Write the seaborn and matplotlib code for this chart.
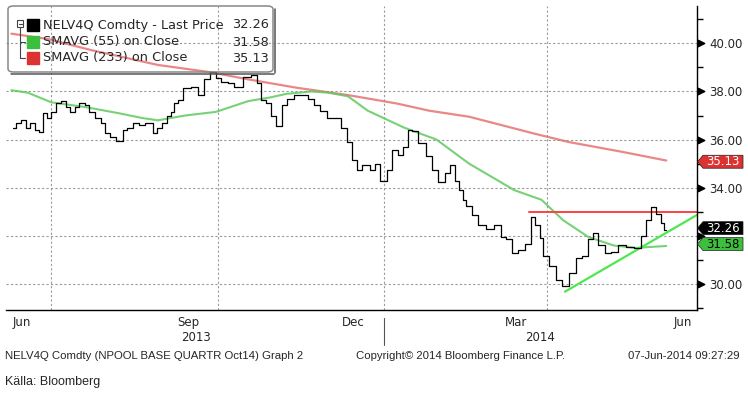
import matplotlib
matplotlib.use('Agg')
import pandas as pd
import matplotlib.pyplot as plt
import matplotlib.dates as mdates
import seaborn as sns
from matplotlib.transforms import blended_transform_factory
from matplotlib.patches import Rectangle, FancyBboxPatch, Polygon
from matplotlib.lines import Line2D

# NELV4Q Comdty - senaste pris
price_dates = [
    '2013-06-10', '2013-06-13', '2013-06-16', '2013-06-18', '2013-06-21', '2013-06-23',
    '2013-06-26', '2013-06-27', '2013-06-30', '2013-07-02', '2013-07-05', '2013-07-08',
    '2013-07-10', '2013-07-13', '2013-07-15', '2013-07-18', '2013-07-21', '2013-07-23',
    '2013-07-27', '2013-07-30', '2013-08-01', '2013-08-04', '2013-08-08', '2013-08-11',
    '2013-08-13', '2013-08-17', '2013-08-20', '2013-08-24', '2013-08-28', '2013-08-29',
    '2013-09-02', '2013-09-04', '2013-09-06', '2013-09-08', '2013-09-10', '2013-09-14',
    '2013-09-18', '2013-09-22', '2013-09-25', '2013-09-29', '2013-10-01', '2013-10-05',
    '2013-10-08', '2013-10-12', '2013-10-18', '2013-10-21', '2013-10-24', '2013-10-26',
    '2013-10-29', '2013-11-01', '2013-11-04', '2013-11-07', '2013-11-10', '2013-11-14',
    '2013-11-18', '2013-11-22', '2013-11-25', '2013-11-28', '2013-12-03', '2013-12-06',
    '2013-12-10', '2013-12-13', '2013-12-16', '2013-12-18', '2013-12-22', '2013-12-26',
    '2013-12-28', '2014-01-01', '2014-01-04', '2014-01-07', '2014-01-10', '2014-01-13',
    '2014-01-15', '2014-01-18', '2014-01-22', '2014-01-26', '2014-01-29', '2014-02-02',
    '2014-02-05', '2014-02-08', '2014-02-10', '2014-02-13', '2014-02-14', '2014-02-17',
    '2014-02-20', '2014-02-24', '2014-03-01', '2014-03-05', '2014-03-08', '2014-03-11',
    '2014-03-14', '2014-03-18', '2014-03-22', '2014-03-24', '2014-03-27', '2014-03-29',
    '2014-03-31', '2014-04-04', '2014-04-08', '2014-04-11', '2014-04-15', '2014-04-19',
    '2014-04-22', '2014-04-25', '2014-04-28', '2014-05-01', '2014-05-05', '2014-05-08',
    '2014-05-13', '2014-05-17', '2014-05-21', '2014-05-25', '2014-05-27', '2014-05-30',
    '2014-06-02', '2014-06-04', '2014-06-06',
]
price_vals = [
    36.5, 36.7, 36.8, 36.5, 36.7, 36.4,
    36.3, 37.1, 36.9, 37.15, 37.5, 37.6,
    37.35, 37.15, 37.35, 37.5, 37.45, 37.15,
    36.9, 36.7, 36.27, 36.1, 35.95, 36.4,
    36.5, 36.7, 36.6, 36.7, 36.27, 36.5,
    36.7, 37.0, 37.15, 37.5, 37.65, 38.15,
    38.2, 37.85, 38.5, 38.8, 38.55, 38.4,
    38.35, 38.2, 38.6, 38.7, 38.35, 37.65,
    37.5, 37.0, 36.55, 37.45, 37.7, 37.85,
    37.85, 37.7, 37.45, 37.2, 36.9, 36.9,
    36.5, 35.9, 35.15, 34.75, 34.95, 34.75,
    35.0, 34.3, 34.75, 35.55, 35.35, 35.7,
    36.4, 36.35, 35.85, 35.3, 34.75, 34.25,
    34.6, 34.95, 34.3, 33.9, 33.5, 33.25,
    32.85, 32.45, 32.3, 32.45, 31.95, 31.85,
    31.3, 31.4, 31.65, 32.8, 32.45, 31.9,
    31.15, 30.75, 30.15, 29.9, 30.45, 31.1,
    31.15, 31.85, 32.1, 31.6, 31.3, 31.35,
    31.6, 31.55, 31.5, 32.0, 32.65, 33.2,
    32.9, 32.55, 32.26,
]

# SMAVG (55) on Close
sma55_dates = [
    '2013-06-09', '2013-06-18', '2013-07-01', '2013-07-20', '2013-08-07', '2013-08-20',
    '2013-08-29', '2013-09-13', '2013-09-30', '2013-10-18', '2013-10-30', '2013-11-08',
    '2013-11-22', '2013-12-01', '2013-12-12', '2013-12-23', '2014-01-12', '2014-01-30',
    '2014-02-17', '2014-03-14', '2014-03-29', '2014-04-10', '2014-04-24', '2014-05-08',
    '2014-05-20', '2014-06-06',
]
sma55_vals = [
    38.05, 37.95, 37.55, 37.35, 37.1, 36.9,
    36.8, 37.0, 37.15, 37.6, 37.75, 37.9,
    38.0, 37.95, 37.8, 37.2, 36.5, 36.0,
    35.0, 33.9, 33.5, 32.65, 31.95, 31.6,
    31.5, 31.58,
]

# SMAVG (233) on Close
sma233_dates = [
    '2013-06-09', '2013-06-29', '2013-07-23', '2013-08-29', '2013-09-27', '2013-10-18',
    '2013-11-14', '2013-12-12', '2014-01-08', '2014-01-26', '2014-02-17', '2014-03-25',
    '2014-04-13', '2014-05-12', '2014-06-06',
]
sma233_vals = [
    40.4, 40.18, 39.72, 39.1, 38.8, 38.5,
    38.15, 37.85, 37.5, 37.2, 36.95, 36.25,
    35.9, 35.5, 35.13,
]

# inritade trendlinjer
resist_dates = ['2014-03-22', '2014-06-23']
resist_vals = [33.0, 33.0]
support_dates = ['2014-04-11', '2014-06-23']
support_vals = [29.68, 32.87]

legend_names = ['NELV4Q Comdty - Last Price', 'SMAVG (55) on Close', 'SMAVG (233) on Close']
legend_vals = ['32.26', '31.58', '35.13']
tag_texts = ['35.13', '32.26', '31.58']
tag_pos = [35.08, 32.32, 31.66]

# 32.00 döljs bakom värdeetiketterna i originalet
ytick_vals = [30, 32, 34, 36, 38, 40]
ytick_labels = ['30.00', '', '34.00', '36.00', '38.00', '40.00']

month_labels = ['Jun', 'Sep', 'Dec', 'Mar', 'Jun']
month_dates = ['2013-06-15', '2013-09-15', '2013-12-15', '2014-03-15', '2014-06-15']
year_labels = ['2013', '2014']
year_dates = ['2013-09-19', '2014-03-28']
quarter_lines = ['2013-07-01', '2013-10-01', '2014-01-01', '2014-04-01']

sns.set_style('white')
plt.rcParams['font.family'] = ['DejaVu Sans']

W, H = 748, 398
fig = plt.figure(figsize=(W / 100, H / 100), dpi=100)
ax = fig.add_axes([6 / W, 88 / H, 691 / W, 304 / H])

black = '#000000'
green = '#3cbf3c'
red = '#dc3232'

price = pd.DataFrame({'date': pd.to_datetime(price_dates), 'close': price_vals})
sma55 = pd.DataFrame({'date': pd.to_datetime(sma55_dates), 'v': sma55_vals})
sma233 = pd.DataFrame({'date': pd.to_datetime(sma233_dates), 'v': sma233_vals})
resist = pd.DataFrame({'date': pd.to_datetime(resist_dates), 'v': resist_vals})
support = pd.DataFrame({'date': pd.to_datetime(support_dates), 'v': support_vals})

sns.lineplot(data=sma233, x='date', y='v', ax=ax, color='#e36a6a', lw=1.6, alpha=0.8)
sns.lineplot(data=sma55, x='date', y='v', ax=ax, color='#5fc95f', lw=1.5, alpha=0.85)
sns.lineplot(data=resist, x='date', y='v', ax=ax, color='#ff4040', lw=1.4)
sns.lineplot(data=support, x='date', y='v', ax=ax, color='#4de84d', lw=1.6)
sns.lineplot(data=price, x='date', y='close', ax=ax, color=black, lw=0.9,
             drawstyle='steps-mid')

ax.set_xlim(pd.Timestamp('2013-06-06'), pd.Timestamp('2014-06-23'))
ax.set_ylim(28.92, 41.55)
ax.set_xlabel('')
ax.set_ylabel('')

# spines
for s in ['left', 'top']:
    ax.spines[s].set_visible(False)
for s in ['right', 'bottom']:
    ax.spines[s].set_color('black')
    ax.spines[s].set_linewidth(1.0)

# y-axel till höger
ax.yaxis.tick_right()
ax.set_yticks(ytick_vals)
ax.set_yticklabels(ytick_labels, fontsize=8.5)
ax.set_yticks([29, 31, 33, 35, 37, 39, 41], minor=True)
ax.tick_params(axis='y', which='major', length=0, pad=9)
ax.tick_params(axis='y', which='minor', length=4, width=1, direction='out', color='black')
for v in ytick_vals:
    ax.axhline(v, color='#9a9a9a', lw=0.8, ls=(0, (2, 2)), zorder=0)
tr_y = blended_transform_factory(ax.transAxes, ax.transData)
ax.scatter([1.0 + 4 / 691] * len(ytick_vals), ytick_vals, marker='>', s=22, color='black',
           transform=tr_y, clip_on=False, zorder=5)

# x-axel
ax.set_xticks(pd.to_datetime(month_dates))
ax.set_xticklabels(month_labels, fontsize=8.5)
ax.xaxis.set_minor_locator(mdates.MonthLocator())
ax.tick_params(axis='x', which='major', length=0, pad=4)
ax.tick_params(axis='x', which='minor', length=3, width=1, direction='out', color='black')
for d in quarter_lines:
    ax.axvline(pd.Timestamp(d), color='#9a9a9a', lw=0.8, ls=(0, (2, 2)), zorder=0)

tr_x = blended_transform_factory(ax.transData, ax.transAxes)
for lab, d in zip(year_labels, year_dates):
    ax.text(pd.Timestamp(d), -0.09, lab, transform=tr_x, ha='center', va='center',
            fontsize=8.5)
ax.add_line(Line2D([pd.Timestamp('2014-01-01')] * 2, [-0.026, -0.115], transform=tr_x,
                   color='#555555', lw=0.8, clip_on=False))

# värdeetiketter vid axeln (pilformade)
tag_fc = [red, black, green]
tag_tc = ['white', 'white', 'black']
half = 6.5 / 24.07
x0, x1, x2 = 1.0 + 0.5 / 691, 1.0 + 6 / 691, 1.0 + 46 / 691
for txt, y, fc, tc in zip(tag_texts, tag_pos, tag_fc, tag_tc):
    poly = Polygon([(x0, y), (x1, y + half), (x2, y + half), (x2, y - half), (x1, y - half)],
                   closed=True, transform=tr_y, fc=fc, ec='#222222', lw=0.5,
                   clip_on=False, zorder=6)
    ax.add_patch(poly)
    ax.text(1.0 + 26 / 691, y, txt, transform=tr_y, ha='center', va='center',
            fontsize=8.5, color=tc, clip_on=False, zorder=7)

# legend (ritad för hand, som i Bloomberg)
def fx(x):
    return x / W

def fy(y):
    return 1 - y / H

fig.patches.append(FancyBboxPatch((fx(8), fy(72)), fx(265), 66 / H,
                                  boxstyle='round,pad=0,rounding_size=0.008',
                                  transform=fig.transFigure, fc='none', ec='#888888',
                                  lw=1.1))
fig.lines.append(Line2D([fx(11), fx(274)], [fy(73.5), fy(73.5)], transform=fig.transFigure,
                        color='#555555', lw=1.1))
fig.lines.append(Line2D([fx(274.5), fx(274.5)], [fy(9), fy(73)], transform=fig.transFigure,
                        color='#555555', lw=1.1))
rows = [25, 42, 58]
sq_col = [black, green, red]
for yrow, col, name, val in zip(rows, sq_col, legend_names, legend_vals):
    fig.patches.append(Rectangle((fx(27), fy(yrow + 6)), fx(12), 12 / H,
                                 transform=fig.transFigure, fc=col, ec=col))
    fig.text(fx(43), fy(yrow), name, fontsize=9.3, va='center', ha='left')
    fig.text(fx(232), fy(yrow), val, fontsize=9.3, va='center', ha='left')
# trädsymbol
fig.patches.append(Rectangle((fx(17), fy(27)), fx(6), 7 / H, transform=fig.transFigure,
                             fc='white', ec='#444444', lw=0.8))
fig.lines.append(Line2D([fx(18.5), fx(21.5)], [fy(23.5), fy(23.5)], transform=fig.transFigure,
                        color='#444444', lw=0.8))
fig.lines.append(Line2D([fx(20), fx(20), fx(25)], [fy(27), fy(58), fy(58)],
                        transform=fig.transFigure, color='#444444', lw=0.8))
fig.lines.append(Line2D([fx(20), fx(25)], [fy(42), fy(42)], transform=fig.transFigure,
                        color='#444444', lw=0.8))

# fottext
foot = ['Liberation Sans', 'DejaVu Sans']
fig.text(fx(5), fy(356), 'NELV4Q Comdty (NPOOL BASE QUARTR Oct14) Graph 2', fontsize=8.2,
         va='center', ha='left', family=foot)
fig.text(fx(461), fy(356), 'Copyright\u00a9 2014 Bloomberg Finance L.P.', fontsize=8.2,
         va='center', ha='center', family=foot)
fig.text(fx(740), fy(356), '07-Jun-2014 09:27:29', fontsize=8.2, va='center', ha='right',
         family=foot)
fig.text(fx(5), fy(382), 'Källa: Bloomberg', fontsize=9, va='center', ha='left',
         family=foot)

fig.savefig('out.png', dpi=100)
